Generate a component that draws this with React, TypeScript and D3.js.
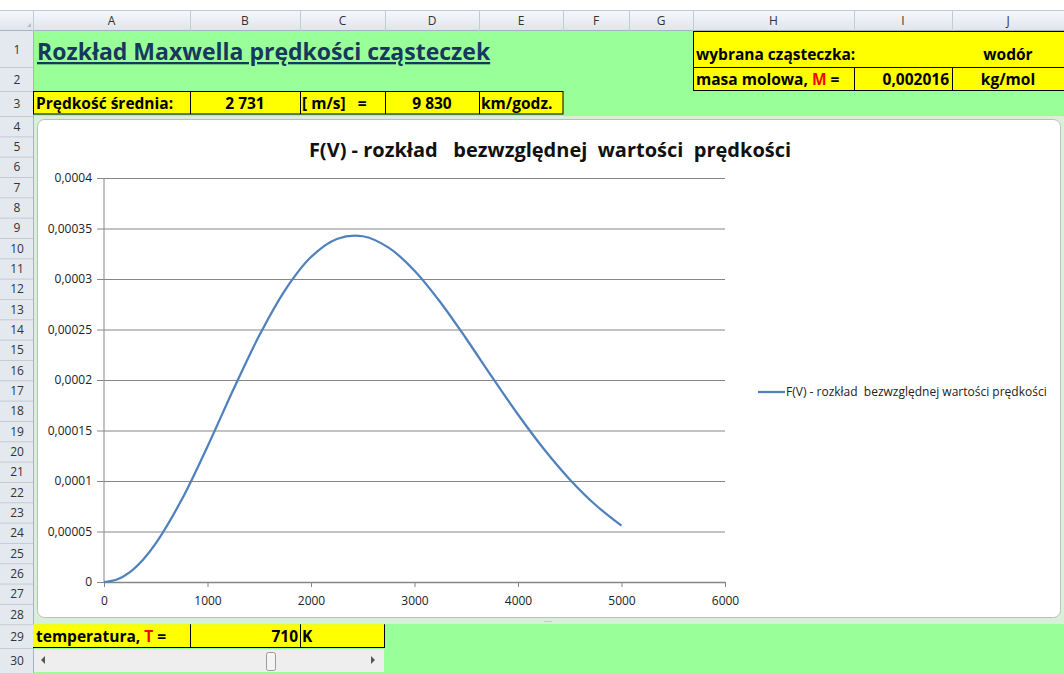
import React, { useEffect, useRef } from 'react';
import * as d3 from 'd3';

// velocity [m/s] and F(V) (hydrogen, T = 710 K)
const speeds = [0, 125, 250, 375, 500, 750, 1000, 1250, 1500, 1750, 2000, 2250, 2500, 2750, 3000, 3250, 3500, 3750, 4000, 4250, 4500, 4750, 5000];
const density = [
  0, 0.0000024816, 0.000009847, 0.000021863, 0.000038148, 0.000081373, 0.00013425,
  0.00019055, 0.00024400, 0.00028909, 0.00032173, 0.00033962, 0.00034233,
  0.00033105, 0.00030823, 0.00027702, 0.00024085, 0.00020288, 0.00016581,
  0.00013162, 0.00010156, 0.000076244, 0.000055717,
];
const yTicks = [0, 0.00005, 0.0001, 0.00015, 0.0002, 0.00025, 0.0003, 0.00035, 0.0004];
const yTickLabels = ['0', '0,00005', '0,0001', '0,00015', '0,0002', '0,00025', '0,0003', '0,00035', '0,0004'];
const xTicks = [0, 1000, 2000, 3000, 4000, 5000, 6000];

const columnNames = ['A', 'B', 'C', 'D', 'E', 'F', 'G', 'H', 'I', 'J'];
const seriesName = 'F(V) - rozkład  bezwzględnej wartości prędkości';
const chartTitle = 'F(V) - rozkład   bezwzględnej  wartości  prędkości';

// sheet layout
const colEdges = [33, 190, 300, 385, 479, 563, 629, 693, 854, 952, 1064];
const rowEdges: number[] = [31, 67, 91, 116];
for (let i = 0; i < 25; i++) rowEdges.push(116 + (i + 1) * 20.33);
rowEdges.push(648, 673);

const GREEN = '#99FF99';
const YELLOW = '#FFFF00';
const FONT = '"Open Sans", "Noto Sans", sans-serif';

const Chart: React.FC = () => {
  const gRef = useRef<SVGGElement | null>(null);

  useEffect(() => {
    const x = d3.scaleLinear().domain([0, 6000]).range([104, 725]);
    const y = d3.scaleLinear().domain([0, 0.0004]).range([582, 178]);
    const g = d3.select(gRef.current);
    g.selectAll('*').remove();

    // horizontal gridlines + y axis
    const yAxis = g.append('g')
      .attr('transform', 'translate(104,0)')
      .call(d3.axisLeft(y).tickValues(yTicks).tickSize(-621).tickPadding(12)
        .tickFormat((_, i) => yTickLabels[i]));
    yAxis.select('.domain').remove();
    yAxis.selectAll('.tick line').attr('stroke', '#868686').attr('x1', -7);
    yAxis.selectAll('.tick text')
      .attr('font-family', FONT).attr('font-size', 12).attr('fill', '#222');

    g.append('line')
      .attr('x1', 104).attr('x2', 104).attr('y1', 178).attr('y2', 582)
      .attr('stroke', '#868686');

    const xAxis = g.append('g')
      .attr('transform', 'translate(0,582)')
      .call(d3.axisBottom(x).tickValues(xTicks).tickSize(5).tickSizeOuter(0).tickPadding(9)
        .tickFormat(d => String(d)));
    xAxis.select('.domain').attr('stroke', '#868686').attr('stroke-width', 1.5);
    xAxis.selectAll('.tick line').attr('stroke', '#868686');
    xAxis.selectAll('.tick text')
      .attr('font-family', FONT).attr('font-size', 12).attr('fill', '#222');

    const line = d3.line<number>()
      .x((_, i) => x(speeds[i]))
      .y(d => y(d))
      .curve(d3.curveCatmullRom);

    g.append('path')
      .datum(density)
      .attr('fill', 'none')
      .attr('stroke', '#4F81BD')
      .attr('stroke-width', 2.25)
      .attr('d', line);

    // legend
    g.append('line')
      .attr('x1', 758).attr('x2', 785).attr('y1', 392).attr('y2', 392)
      .attr('stroke', '#4F81BD').attr('stroke-width', 2.25);
    g.append('text')
      .attr('x', 786).attr('y', 396)
      .attr('font-family', FONT).attr('font-size', 12).attr('fill', '#222')
      .style('white-space', 'pre')
      .text(seriesName);
  }, []);

  return (
    <g>
      <rect x={34} y={116} width={1030} height={508} fill="#D8F0D8" />
      <rect x={37.5} y={119.5} width={1023} height={498} rx={7} fill="#fff" stroke="#BDBDBD" />
      <text x={550} y={157} textAnchor="middle" fontFamily={FONT} fontWeight="bold" fontSize={20}
        fill="#111" style={{ whiteSpace: 'pre' }}>{chartTitle}</text>
      <g ref={gRef} />
    </g>
  );
};

const App: React.FC = () => {
  const rowTop = (r: number) => rowEdges[r - 1];
  const rowBot = (r: number) => rowEdges[r];
  const colL = (c: number) => colEdges[c];
  const colR = (c: number) => colEdges[c + 1];
  const txt = { fontFamily: FONT, fontWeight: 'bold' as const, fontSize: 15.5, fill: '#000' };

  return (
    <svg width={1064} height={673} style={{ position: 'fixed', left: 0, top: 0, background: '#fff' }}>
      <defs>
        <linearGradient id="hdr" x1="0" y1="0" x2="0" y2="1">
          <stop offset="0" stopColor="#F6F8FB" />
          <stop offset="1" stopColor="#DFE4EC" />
        </linearGradient>
      </defs>
      {/* column headers */}
      <rect x={0} y={10} width={1064} height={21} fill="url(#hdr)" />
      <line x1={0} x2={1064} y1={10.5} y2={10.5} stroke="#C4CBD5" />
      <line x1={0} x2={1064} y1={30.5} y2={30.5} stroke="#A9B3C0" />
      <path d="M27,27 L31,23 L31,27 Z" fill="#B5BCC6" />
      {colEdges.map((e, i) => (
        <line key={'ce' + i} x1={e + 0.5} x2={e + 0.5} y1={10} y2={31} stroke="#C4CBD5" />
      ))}
      {columnNames.map((n, i) => (
        <text key={'cn' + i} x={(colL(i) + colR(i)) / 2} y={25} textAnchor="middle"
          fontFamily={FONT} fontSize={12} fill="#333">{n}</text>
      ))}
      {/* row headers */}
      <rect x={0} y={31} width={33} height={642} fill="#E4E9F0" />
      <line x1={33.5} x2={33.5} y1={31} y2={673} stroke="#A9B3C0" />
      {rowEdges.slice(1).map((e, i) => (
        <line key={'re' + i} x1={0} x2={33} y1={e + 0.5} y2={e + 0.5} stroke="#C4CBD5" />
      ))}
      {rowEdges.slice(0, -1).map((e, i) => (
        <text key={'rn' + i} x={17} y={(e + rowEdges[i + 1]) / 2 + 4.5} textAnchor="middle"
          fontFamily={FONT} fontSize={12} fill="#333">{i + 1}</text>
      ))}
      {/* green sheet */}
      <rect x={34} y={31} width={1030} height={642} fill={GREEN} />

      {/* title row */}
      <text x={37} y={60} fontFamily={FONT} fontWeight="bold" fontSize={23} fill="#17375E"
        textDecoration="underline">Rozkład Maxwella prędkości cząsteczek</text>

      {/* row 3 */}
      <rect x={33} y={rowTop(3)} width={colR(4) - 33} height={rowBot(3) - rowTop(3) - 2} fill={YELLOW} />
      <rect x={33.5} y={rowTop(3) + 0.5} width={colR(4) - 33.5} height={rowBot(3) - rowTop(3) - 2.5}
        fill="none" stroke="#000" />
      {[1, 2, 3, 4].map(c => (
        <line key={'r3' + c} x1={colL(c) + 0.5} x2={colL(c) + 0.5} y1={rowTop(3)} y2={rowBot(3) - 2} stroke="#000" />
      ))}
      <text x={36} y={109} {...txt}>Prędkość średnia:</text>
      <text x={(colL(1) + colR(1)) / 2} y={109} textAnchor="middle" {...txt}>2 731</text>
      <text x={302} y={109} {...txt} style={{ whiteSpace: 'pre' }}>[ m/s]   =</text>
      <text x={(colL(3) + colR(3)) / 2} y={109} textAnchor="middle" {...txt}>9 830</text>
      <text x={481} y={109} {...txt}>km/godz.</text>

      {/* particle block */}
      <rect x={colL(7)} y={rowTop(1)} width={1064 - colL(7)} height={rowBot(2) - rowTop(1)} fill={YELLOW} />
      <rect x={colL(7) + 0.5} y={rowTop(1) + 0.5} width={1070 - colL(7)} height={rowBot(2) - rowTop(1) - 1}
        fill="none" stroke="#000" />
      <line x1={colL(7)} x2={1064} y1={rowTop(2) + 0.5} y2={rowTop(2) + 0.5} stroke="#000" />
      <line x1={colL(8) + 0.5} x2={colL(8) + 0.5} y1={rowTop(2)} y2={rowBot(2)} stroke="#000" />
      <line x1={colL(9) + 0.5} x2={colL(9) + 0.5} y1={rowTop(2)} y2={rowBot(2)} stroke="#000" />
      <text x={696} y={60} {...txt}>wybrana cząsteczka:</text>
      <text x={1008} y={60} textAnchor="middle" {...txt}>wodór</text>
      <text x={696} y={85} {...txt} style={{ whiteSpace: 'pre' }}>masa molowa, <tspan fill="#FF0000">M</tspan> =</text>
      <text x={colR(8) - 3} y={85} textAnchor="end" {...txt}>0,002016</text>
      <text x={1008} y={85} textAnchor="middle" {...txt}>kg/mol</text>

      <Chart />
      <text x={548} y={622} textAnchor="middle" fontFamily={FONT} fontSize={8} fill="#999">....</text>

      {/* row 29 */}
      <rect x={33} y={rowTop(29)} width={colR(2) - 33} height={rowBot(29) - rowTop(29)} fill={YELLOW} />
      <line x1={33} x2={colR(2)} y1={rowBot(29) - 0.5} y2={rowBot(29) - 0.5} stroke="#000" />
      <line x1={colL(1) + 0.5} x2={colL(1) + 0.5} y1={rowTop(29)} y2={rowBot(29)} stroke="#000" />
      <line x1={colL(2) + 0.5} x2={colL(2) + 0.5} y1={rowTop(29)} y2={rowBot(29)} stroke="#000" />
      <line x1={colR(2) - 0.5} x2={colR(2) - 0.5} y1={rowTop(29)} y2={rowBot(29)} stroke="#000" />
      <text x={36} y={642} {...txt} style={{ whiteSpace: 'pre' }}>temperatura, <tspan fill="#FF0000">T</tspan> =</text>
      <text x={colR(1) - 2} y={642} textAnchor="end" {...txt}>710</text>
      <text x={302} y={642} {...txt}>K</text>

      {/* scrollbar */}
      <rect x={34} y={649} width={colR(2) - 35} height={23} fill="#EEEEEE" />
      <path d="M45,656 L41,660 L45,664 Z" fill="#555" />
      <path d="M371,656 L375,660 L371,664 Z" fill="#555" />
      <rect x={266.5} y={652.5} width={9} height={18} rx={2} fill="#F4F4F4" stroke="#9A9A9A" />
    </svg>
  );
};

export default App;
